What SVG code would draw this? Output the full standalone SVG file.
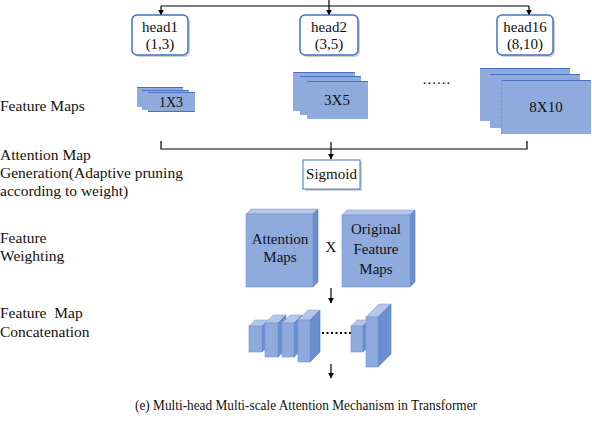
<svg xmlns="http://www.w3.org/2000/svg" width="592" height="426" viewBox="0 0 592 426">
<defs>
<marker id="ah" viewBox="0 0 10 10" refX="9" refY="5" markerWidth="5" markerHeight="5" orient="auto"><path d="M0,0 L10,5 L0,10 z" fill="#000"/></marker>
<style>
text{font-family:"Liberation Serif","Times New Roman",serif;font-size:15px;fill:#111;}
.c{text-anchor:middle;}
.lbl{white-space:pre;font-size:15.5px;}
.hb{fill:#fff;stroke:#4472C4;stroke-width:1.5;}
.sh{fill:#cfcfcf;}
.fm{fill:#8FAADC;}
.fl{stroke:#4A6FBF;stroke-width:1;}
.front{fill:#8FAADC;stroke:#7895d0;stroke-width:0.6;}
.top{fill:#B4C7E7;stroke:#8ea6d8;stroke-width:0.6;}
.side{fill:#6B8FD0;stroke:#5a7ec4;stroke-width:0.6;}
.ln{fill:none;stroke:#000;stroke-width:1.2;}
</style>
</defs>

<g id="connectors">
<path class="ln" d="M329,0 V6"/>
<path class="ln" d="M161,6 H529"/>
<path class="ln" d="M161,6 V15" marker-end="url(#ah)"/>
<path class="ln" d="M329,6 V15" marker-end="url(#ah)"/>
<path class="ln" d="M529,6 V15" marker-end="url(#ah)"/>
<path class="ln" d="M161,141 V149 H527 V141" stroke="#333"/>
<path class="ln" d="M331,142 V159" marker-end="url(#ah)"/>
<path class="ln" d="M331,288 V303" marker-end="url(#ah)"/>
<path class="ln" d="M331,364 V378" marker-end="url(#ah)"/>
<path d="M322,333 H351" stroke="#000" stroke-width="2" stroke-dasharray="2,2.5" fill="none"/>
</g>

<g id="head1">
<rect class="sh" x="134" y="17" width="56" height="40" rx="5"/>
<rect class="hb" x="132" y="15" width="56" height="40" rx="5"/>
<text class="c" x="160" y="32">head1</text>
<text class="c" x="160" y="49">(1,3)</text>
</g>
<g id="head2">
<rect class="sh" x="302" y="17" width="58" height="40" rx="5"/>
<rect class="hb" x="300" y="15" width="58" height="40" rx="5"/>
<text class="c" x="329" y="32">head2</text>
<text class="c" x="329" y="49">(3,5)</text>
</g>
<g id="head16">
<rect class="sh" x="499" y="17" width="56" height="40" rx="5"/>
<rect class="hb" x="497" y="15" width="56" height="40" rx="5"/>
<text class="c" x="525" y="32">head16</text>
<text class="c" x="525" y="49">(8,10)</text>
</g>

<g id="fm1">
<rect class="fm" x="137" y="87" width="46" height="20"/>
<path class="fl" d="M137,87.5 H183"/>
<rect class="fm" x="142" y="90" width="47" height="20"/>
<path class="fl" d="M142,90.5 H189"/>
<rect class="fm" x="148" y="92" width="47" height="20"/>
<path class="fl" d="M148,92.5 H195 M148,111.5 H195"/>
<text class="c" x="171" y="107" style="font-size:14px">1X3</text>
</g>
<g id="fm2">
<rect class="fm" x="293" y="72" width="62" height="39"/>
<path class="fl" d="M293,72.5 H355"/>
<rect class="fm" x="300" y="76" width="61" height="39"/>
<path class="fl" d="M300,76.5 H361"/>
<rect class="fm" x="307" y="81" width="61" height="38"/>
<path class="fl" d="M307,81.5 H368"/>
<text class="c" x="337" y="105">3X5</text>
</g>
<text x="437" y="84" class="c" style="letter-spacing:1px">......</text>
<g id="fm3">
<rect class="fm" x="480" y="68" width="90" height="53"/>
<path class="fl" d="M480,68.5 H570"/>
<rect class="fm" x="490" y="74" width="90" height="54"/>
<path class="fl" d="M490,74.5 H580"/>
<rect class="fm" x="501" y="80" width="90" height="54"/>
<path class="fl" d="M501,80.5 H591"/>
<path d="M501.5,80 V134" stroke="#7895d0" stroke-width="1" stroke-dasharray="2,2"/>
<text class="c" x="546" y="112">8X10</text>
</g>

<g id="sigmoid">
<rect class="sh" x="305" y="162" width="57" height="29"/>
<rect x="303" y="160" width="57" height="29" fill="#fff" stroke="#4472C4" stroke-width="1"/>
<text class="c" x="331.5" y="179">Sigmoid</text>
</g>

<g id="attention-maps">
<polygon class="top" points="246,214 251,209 318,209 313,214"/>
<polygon class="side" points="313,214 318,209 318,282 313,287"/>
<rect class="front" x="246" y="214" width="67" height="73"/>
<text class="c" x="280" y="244">Attention</text>
<text class="c" x="280" y="262">Maps</text>
</g>
<text class="c" x="331" y="252">X</text>
<g id="original-feature-maps">
<polygon class="top" points="342,215 347,210 415,210 410,215"/>
<polygon class="side" points="410,215 415,210 415,282 410,287"/>
<rect class="front" x="342" y="215" width="68" height="72"/>
<text class="c" x="376" y="234">Original</text>
<text class="c" x="376" y="254">Feature</text>
<text class="c" x="376" y="274">Maps</text>
</g>

<g id="concat">
<polygon class="top" points="249,326 255,320 268,320 262,326"/>
<polygon class="side" points="262,326 268,320 268,346 262,352"/>
<rect class="front" x="249" y="326" width="13" height="26"/>

<polygon class="top" points="265,323 273,315 286,315 278,323"/>
<polygon class="side" points="278,323 286,315 286,349 278,357"/>
<rect class="front" x="265" y="323" width="13" height="34"/>

<polygon class="top" points="282,323 290,315 302,315 294,323"/>
<polygon class="side" points="294,323 302,315 302,349 294,357"/>
<rect class="front" x="282" y="323" width="12" height="34"/>

<polygon class="top" points="298,320 308,310 320,310 310,320"/>
<polygon class="side" points="310,320 320,310 320,352 310,362"/>
<rect class="front" x="298" y="320" width="12" height="42"/>

<polygon class="top" points="351,326 357,320 369,320 363,326"/>
<polygon class="side" points="363,326 369,320 369,346 363,352"/>
<rect class="front" x="351" y="326" width="12" height="26"/>

<polygon class="top" points="366,317 379,304 391,304 378,317"/>
<polygon class="side" points="378,317 391,304 391,354 378,367"/>
<rect class="front" x="366" y="317" width="12" height="50"/>
</g>

<g id="labels">
<text class="lbl" x="0" y="111">Feature Maps</text>
<text class="lbl" x="0" y="160">Attention Map</text>
<text class="lbl" x="0" y="178">Generation(Adaptive pruning</text>
<text class="lbl" x="0" y="196">according to weight)</text>
<text class="lbl" x="0" y="243">Feature</text>
<text class="lbl" x="0" y="261">Weighting</text>
<text class="lbl" x="0" y="318">Feature  Map</text>
<text class="lbl" x="0" y="337">Concatenation</text>
<text x="135" y="410" textLength="342" lengthAdjust="spacingAndGlyphs" style="font-size:14.5px">(e) Multi-head Multi-scale Attention Mechanism in Transformer</text>
</g>
</svg>
